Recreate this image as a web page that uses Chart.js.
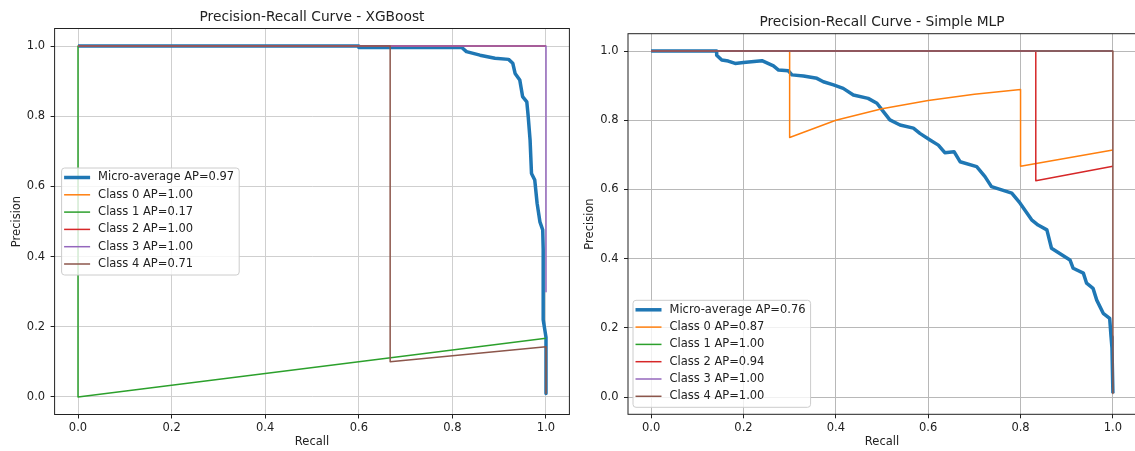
<!DOCTYPE html>
<html lang="en">
<head>
<meta charset="UTF-8">
<title>Precision-Recall Curves</title>
<script src="https://cdn.jsdelivr.net/npm/chart.js"></script>
<style>
  html, body { margin: 0; background: #fff; overflow: hidden; }
  .panel { position: absolute; top: 0; height: 451px; }
  #left { left: 0; width: 575px; }
  #right { left: 575px; width: 565px; }
</style>
</head>
<body>
<div class="panel" id="left"><canvas id="xgbChart"></canvas></div>
<div class="panel" id="right"><canvas id="mlpChart"></canvas></div>
<script>
const classNames = ['Class 0', 'Class 1', 'Class 2', 'Class 3', 'Class 4'];
const classColors = ['#ff7f0e', '#2ca02c', '#d62728', '#9467bd', '#8c564b'];
const microColor = '#1f77b4';
const tickValues = [0, 0.2, 0.4, 0.6, 0.8, 1.0];

// XGBoost curves
const xgbMicroAP = 0.97;
const xgbClassAP = [1.00, 0.17, 1.00, 1.00, 0.71];
const xgbMicroRecall = [0, 0.6, 0.6, 0.82, 0.83, 0.859, 0.891, 0.92, 0.929, 0.934, 0.944, 0.95, 0.959, 0.962, 0.966, 0.969, 0.976, 0.981, 0.987, 0.993, 0.994, 0.994, 1.0, 1.0];
const xgbMicroPrecision = [1, 1, 0.996, 0.996, 0.984, 0.974, 0.965, 0.962, 0.951, 0.922, 0.903, 0.856, 0.841, 0.799, 0.732, 0.637, 0.618, 0.552, 0.499, 0.476, 0.42, 0.22, 0.17, 0.01];
const xgbClassRecall = [
  [0, 1],
  [0, 0, 1],
  [0, 1],
  [0, 1, 1],
  [0, 0.667, 0.667, 1, 1]
];
const xgbClassPrecision = [
  [1, 1],
  [1, 0, 0.167],
  [1, 1],
  [1, 1, 0.3],
  [1, 1, 0.1, 0.143, 0.01]
];

// Simple MLP curves
const mlpMicroAP = 0.76;
const mlpClassAP = [0.87, 1.00, 0.94, 1.00, 1.00];
const mlpMicroRecall = [0, 0.142, 0.142, 0.153, 0.167, 0.182, 0.2, 0.24, 0.265, 0.276, 0.297, 0.305, 0.33, 0.359, 0.373, 0.395, 0.416, 0.438, 0.47, 0.489, 0.503, 0.517, 0.539, 0.568, 0.582, 0.604, 0.622, 0.636, 0.656, 0.669, 0.705, 0.723, 0.737, 0.781, 0.799, 0.824, 0.838, 0.857, 0.867, 0.907, 0.914, 0.936, 0.943, 0.957, 0.965, 0.979, 0.993, 0.996, 0.998, 1.0];
const mlpMicroPrecision = [1, 1, 0.988, 0.974, 0.971, 0.964, 0.967, 0.972, 0.957, 0.945, 0.943, 0.931, 0.928, 0.921, 0.911, 0.902, 0.892, 0.873, 0.863, 0.849, 0.825, 0.801, 0.786, 0.777, 0.762, 0.743, 0.728, 0.706, 0.709, 0.68, 0.666, 0.637, 0.608, 0.589, 0.56, 0.512, 0.497, 0.483, 0.43, 0.396, 0.372, 0.358, 0.329, 0.314, 0.28, 0.242, 0.227, 0.174, 0.141, 0.011];
const mlpClassRecall = [
  [0, 0.3, 0.3, 0.4, 0.5, 0.6, 0.7, 0.8, 0.8, 1.0],
  [0, 1],
  [0, 0.833, 0.833, 1.0],
  [0, 1],
  [0, 1, 1]
];
const mlpClassPrecision = [
  [1, 1, 0.75, 0.8, 0.833, 0.857, 0.875, 0.889, 0.667, 0.714],
  [1, 1],
  [1, 1, 0.625, 0.667],
  [1, 1],
  [1, 1, 0.01]
];

Chart.defaults.font.family = '"DejaVu Sans", sans-serif';
Chart.defaults.color = '#222';

function buildDatasets(microAP, microR, microP, classAP, classR, classP) {
  const sets = [{
    label: `Micro-average AP=${microAP.toFixed(2)}`,
    data: microR.map((r, i) => ({ x: r, y: microP[i] })),
    borderColor: microColor,
    borderWidth: 3.5,
    order: 6
  }];
  classNames.forEach((name, c) => sets.push({
    label: `${name} AP=${classAP[c].toFixed(2)}`,
    data: classR[c].map((r, i) => ({ x: r, y: classP[c][i] })),
    borderColor: classColors[c],
    borderWidth: 1.5,
    order: 5 - c
  }));
  return sets;
}

function axis(label, size, horizontal, titlePad, gridColor) {
  return {
    type: 'linear',
    min: -0.05,
    max: 1.05,
    afterBuildTicks: s => { s.ticks = tickValues.map(v => ({ value: v })); },
    afterFit: s => { if (horizontal) s.height = size; else s.width = size; },
    ticks: {
      callback: v => v.toFixed(1),
      font: { size: 11.5 },
      color: '#222',
      padding: horizontal ? 3 : 5.5,
      maxRotation: 0,
      autoSkip: false
    },
    grid: { color: gridColor, tickColor: '#222', tickLength: 4, lineWidth: 1 },
    border: { display: false },
    title: {
      display: true,
      text: label,
      font: { size: 11.5 },
      color: '#222',
      padding: horizontal ? { top: 0, bottom: titlePad } : { top: titlePad, bottom: 0 }
    }
  };
}

// spines, title and legend box drawn over the plot area
function panelDecor(title, legendLoc) {
  return {
    id: 'panelDecor',
    afterDatasetsDraw(chart) {
      const { ctx, chartArea: a } = chart;
      ctx.save();
      ctx.strokeStyle = '#222';
      ctx.lineWidth = 1;
      ctx.strokeRect(a.left, a.top, a.right - a.left, a.bottom - a.top);
      ctx.font = '13.75px "DejaVu Sans"';
      ctx.fillStyle = '#222';
      ctx.textAlign = 'center';
      ctx.textBaseline = 'middle';
      ctx.fillText(title, (a.left + a.right) / 2, a.top - 11);
      ctx.restore();
    },
    afterDraw(chart) {
      const { ctx, chartArea: a } = chart;
      const sets = chart.data.datasets;
      ctx.save();
      ctx.font = '11.5px "DejaVu Sans"';
      const textW = Math.max(...sets.map(d => ctx.measureText(d.label).width));
      const rowH = 17.3;
      const w = 36.5 + textW + 5;
      const h = 9.5 + (sets.length - 1) * rowH + 11;
      const x = a.left + (legendLoc === 'center left' ? 7 : 5);
      const y = legendLoc === 'center left' ? (a.top + a.bottom) / 2 - h / 2 : a.bottom - 7 - h;
      ctx.beginPath();
      ctx.roundRect(x, y, w, h, 3);
      ctx.fillStyle = 'rgba(255,255,255,0.8)';
      ctx.fill();
      ctx.strokeStyle = '#cccccc';
      ctx.lineWidth = 1;
      ctx.stroke();
      ctx.textAlign = 'left';
      ctx.textBaseline = 'middle';
      sets.forEach((d, i) => {
        const cy = y + 9.5 + i * rowH;
        ctx.beginPath();
        ctx.moveTo(x + 2.5, cy);
        ctx.lineTo(x + 28.5, cy);
        ctx.strokeStyle = d.borderColor;
        ctx.lineWidth = d.borderWidth;
        ctx.stroke();
        ctx.fillStyle = '#222';
        ctx.fillText(d.label, x + 36.5, cy);
      });
      ctx.restore();
    }
  };
}

function drawPanel(canvasId, p) {
  return new Chart(document.getElementById(canvasId), {
    type: 'scatter',
    data: { datasets: p.datasets },
    options: {
      responsive: true,
      maintainAspectRatio: false,
      animation: false,
      layout: { padding: { top: p.top, right: p.right, left: 0, bottom: 0 } },
      elements: { point: { radius: 0 }, line: { tension: 0, borderJoinStyle: 'round', fill: false } },
      datasets: { scatter: { showLine: true } },
      plugins: { legend: { display: false }, tooltip: { enabled: false } },
      scales: {
        x: axis('Recall', p.xHeight, true, 2, p.grid),
        y: axis('Precision', p.yWidth, false, p.yTitlePad, p.grid)
      }
    },
    plugins: [panelDecor(p.title, p.legendLoc)]
  });
}

drawPanel('xgbChart', {
  title: 'Precision-Recall Curve - XGBoost',
  datasets: buildDatasets(xgbMicroAP, xgbMicroRecall, xgbMicroPrecision, xgbClassAP, xgbClassRecall, xgbClassPrecision),
  legendLoc: 'center left',
  top: 28.5, right: 5.6, xHeight: 36.5, yWidth: 54.6, yTitlePad: 10.6,
  grid: '#cfcfcf'
});

drawPanel('mlpChart', {
  title: 'Precision-Recall Curve - Simple MLP',
  datasets: buildDatasets(mlpMicroAP, mlpMicroRecall, mlpMicroPrecision, mlpClassAP, mlpClassRecall, mlpClassPrecision),
  legendLoc: 'lower left',
  top: 33.7, right: 4, xHeight: 36.7, yWidth: 53, yTitlePad: 8.1,
  grid: '#b8b8b8'
});
</script>
</body>
</html>
